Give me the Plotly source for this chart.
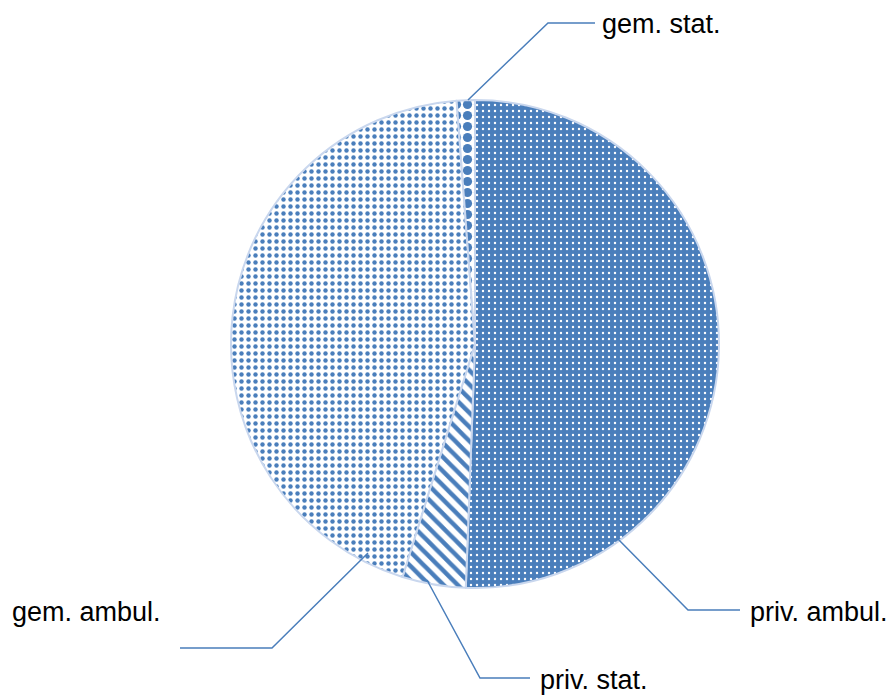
import plotly.graph_objects as go

# Anteile in Prozent, im Uhrzeigersinn ab 12 Uhr
kategorien = ["priv. ambul.", "priv. stat.", "gem. ambul.", "gem. stat."]
anteile = [50.6, 4.2, 44.0, 1.2]

BLAU = "#4a7ebb"
RAND = "#c9d7ee"
W, H = 895, 697

muster = [
    dict(shape=".", bgcolor=BLAU, fgcolor="white", size=6, solidity=0.12),
    dict(shape="\\", bgcolor="white", fgcolor=BLAU, size=10, solidity=0.45),
    dict(shape=".", bgcolor="white", fgcolor=BLAU, size=7, solidity=0.32),
    dict(shape=".", bgcolor="white", fgcolor=BLAU, size=11, solidity=0.55),
]


def px(x, y):
    """Referenz-Pixel -> Papierkoordinaten."""
    return x / W, 1 - y / H


x0, y0 = px(231, 588)
x1, y1 = px(719, 100)

fig = go.Figure()
fig.add_pie(
    labels=kategorien,
    values=anteile,
    sort=False,
    direction="clockwise",
    rotation=0,
    textinfo="none",
    hoverinfo="label+percent",
    marker=dict(
        colors=[BLAU, "white", "white", "white"],
        pattern=dict(
            shape=[m["shape"] for m in muster],
            bgcolor=[m["bgcolor"] for m in muster],
            fgcolor=[m["fgcolor"] for m in muster],
            size=[m["size"] for m in muster],
            solidity=[m["solidity"] for m in muster],
            fillmode="replace",
        ),
        line=dict(color=RAND, width=2),
    ),
    domain=dict(x=[x0, x1], y=[y0, y1]),
    showlegend=False,
)

# Fuehrungslinien (Pixelpunkte der Vorlage) und Beschriftungen
fuehrung = {
    "gem. stat.": ([(468, 100), (548, 23), (595, 23)], (602, 24)),
    "priv. ambul.": ([(617, 538), (688, 610), (740, 610)], (750, 612)),
    "priv. stat.": ([(427, 580), (480, 678), (530, 678)], (540, 680)),
    "gem. ambul.": ([(368, 553), (272, 648), (180, 648)], (12, 612)),
}

for label, (punkte, textpos) in fuehrung.items():
    pfad = "M " + " L ".join(f"{px(x, y)[0]} {px(x, y)[1]}" for x, y in punkte)
    fig.add_shape(type="path", path=pfad, xref="paper", yref="paper",
                  line=dict(color=BLAU, width=1.5))
    tx, ty = px(*textpos)
    fig.add_annotation(x=tx, y=ty, xref="paper", yref="paper", text=label,
                       showarrow=False, xanchor="left", yanchor="middle",
                       xshift=-2,
                       font=dict(family="Liberation Sans", size=27, color="black"))

fig.update_layout(
    width=W, height=H,
    margin=dict(l=0, r=0, t=0, b=0),
    paper_bgcolor="white", plot_bgcolor="white",
)

# Seitenrand des Browsers entfernen, damit die Grafik das Fenster fuellt
fig.write_html(
    "out.html",
    config={"displayModeBar": False},
    post_script="document.body.style.margin = '0';",
)
